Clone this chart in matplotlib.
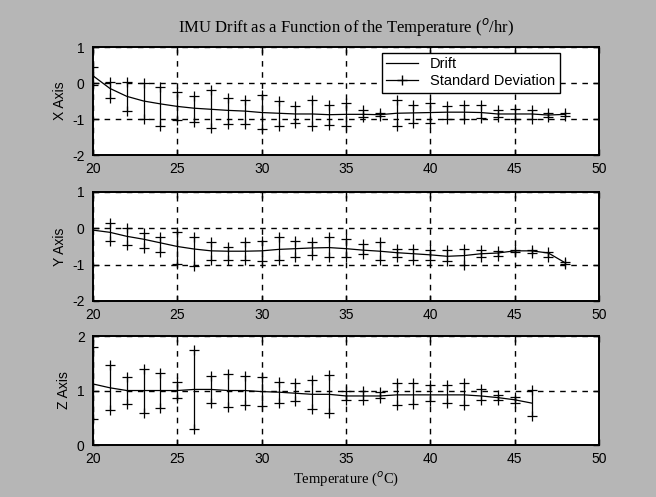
import matplotlib.pyplot as plt
from matplotlib.lines import Line2D

plt.rcParams['axes.unicode_minus'] = False

# temperature points (deg C)
temp_x = list(range(20, 49))
temp_z = list(range(20, 47))

# X axis: drift and standard deviation band (top / bottom of each bar)
drift_x = [0.2, -0.15, -0.37, -0.5, -0.58, -0.65, -0.7, -0.73, -0.76, -0.78, -0.82,
           -0.84, -0.86, -0.86, -0.88, -0.87, -0.87, -0.88, -0.84, -0.83, -0.82, -0.81,
           -0.81, -0.82, -0.86, -0.86, -0.86, -0.89, -0.87]
top_x = [0.45, 0.04, 0.04, 0.0, -0.1, -0.24, -0.36, -0.19, -0.41, -0.46, -0.32,
         -0.5, -0.64, -0.46, -0.6, -0.55, -0.75, -0.82, -0.47, -0.6, -0.55, -0.64,
         -0.6, -0.62, -0.75, -0.72, -0.75, -0.84, -0.84]
bot_x = [-0.05, -0.43, -0.77, -1.0, -1.2, -1.02, -1.07, -1.24, -1.13, -1.13, -1.29,
         -1.2, -1.1, -1.19, -1.16, -1.2, -0.95, -0.93, -1.2, -1.1, -1.1, -1.0,
         -1.0, -0.98, -0.95, -1.0, -1.0, -0.94, -0.92]

# Y axis
drift_y = [-0.05, -0.11, -0.22, -0.3, -0.4, -0.5, -0.57, -0.62, -0.63, -0.63, -0.62,
           -0.58, -0.56, -0.54, -0.53, -0.56, -0.6, -0.63, -0.67, -0.7, -0.73, -0.77,
           -0.75, -0.7, -0.68, -0.62, -0.62, -0.68, -0.95]
top_y = [None, 0.14, 0.0, -0.14, -0.23, -0.11, -0.23, -0.37, -0.52, -0.39, -0.34,
         -0.23, -0.34, -0.37, -0.23, -0.29, -0.44, -0.39, -0.57, -0.57, -0.61, -0.61,
         -0.57, -0.6, -0.63, -0.6, -0.6, -0.66, -0.92]
bot_y = [None, -0.34, -0.45, -0.54, -0.66, -0.98, -1.03, -0.87, -0.87, -0.87, -0.89,
         -0.87, -0.8, -0.73, -0.8, -0.8, -0.72, -0.87, -0.8, -0.87, -0.87, -0.89,
         -1.0, -0.8, -0.75, -0.66, -0.68, -0.8, -0.97]

# Z axis
drift_z = [1.12, 1.05, 1.0, 1.0, 1.0, 1.0, 1.02, 1.02, 1.0, 1.0, 0.98, 0.97, 0.95,
           0.93, 0.93, 0.9, 0.9, 0.9, 0.92, 0.92, 0.92, 0.92, 0.92, 0.9, 0.87, 0.83, 0.77]
top_z = [1.8, 1.47, 1.25, 1.4, 1.33, 1.16, 1.75, 1.27, 1.31, 1.27, 1.25, 1.16, 1.13,
         1.19, 1.28, 1.0, 1.0, 0.98, 1.13, 1.14, 1.1, 1.1, 1.13, 1.03, 0.92, 0.88, 1.01]
bot_z = [0.47, 0.65, 0.75, 0.59, 0.68, 0.86, 0.3, 0.77, 0.7, 0.74, 0.72, 0.77, 0.8,
         0.67, 0.58, 0.83, 0.83, 0.86, 0.74, 0.75, 0.8, 0.77, 0.74, 0.83, 0.83, 0.77, 0.53]

panels = [
    ('X Axis', temp_x, drift_x, top_x, bot_x, (-2, 1), [-2, -1, 0, 1], [0.6881, 0.2173]),
    ('Y Axis', temp_x, drift_y, top_y, bot_y, (-2, 1), [-2, -1, 0, 1], [0.3944, 0.2193]),
    ('Z Axis', temp_z, drift_z, top_z, bot_z, (0, 2), [0, 1, 2], [0.1046, 0.2193]),
]

fig = plt.figure(figsize=(6.56, 4.97), dpi=100)
fig.patch.set_facecolor('#b6b6b6')

axes = []
for name, xs, dr, tp, bt, ylim, yt, (bot, h) in panels:
    ax = fig.add_axes([0.1418, bot, 0.7713, h])
    ax.set_facecolor('white')
    ax.plot(xs, dr, color='k', lw=0.9)
    px = [x for x, t in zip(xs, tp) if t is not None]
    pt = [t for t in tp if t is not None]
    pb = [b for b in bt if b is not None]
    ax.vlines(px, pb, pt, color='k', lw=0.9)
    ax.plot(px, pt, '+', color='k', ms=7, mew=0.9)
    ax.plot(px, pb, '+', color='k', ms=7, mew=0.9)
    ax.set_xlim(20, 50)
    ax.set_ylim(*ylim)
    ax.set_yticks(yt)
    ax.set_xticks(range(20, 51, 5))
    ax.grid(True, color='k', linestyle=(0, (4, 4)), lw=1.0)
    ax.tick_params(direction='in', length=4, width=1, labelsize=10,
                   top=True, right=True)
    ax.tick_params(axis='x', pad=5)
    ax.tick_params(axis='y', pad=6)
    for lab in ax.get_xticklabels() + ax.get_yticklabels():
        lab.set_family('Liberation Sans')
    for s in ax.spines.values():
        s.set_linewidth(1.4)
    ax.set_ylabel(name, family='Liberation Sans', fontsize=10, labelpad=4)
    axes.append(ax)

axes[0].set_title('IMU Drift as a Function of the Temperature ($^o$/hr)',
                  family='Liberation Serif', fontsize=12, pad=11)
axes[2].set_xlabel('Temperature ($^o$C)', family='Liberation Serif',
                   fontsize=10.5, labelpad=2)

handles = [Line2D([], [], color='k', lw=0.9),
           Line2D([], [], color='k', lw=0.9, marker='+', ms=7)]
leg = axes[0].legend(handles, ['Drift', 'Standard Deviation'], loc='upper left',
                     bbox_to_anchor=(0.571, 0.944), borderaxespad=0,
                     prop={'family': 'Liberation Sans', 'size': 10.5},
                     fancybox=False, framealpha=1, edgecolor='k',
                     handlelength=2.2, borderpad=0.3, labelspacing=0.2)
leg.get_frame().set_linewidth(1.0)

fig.savefig('out.png', dpi=100, facecolor=fig.get_facecolor())
